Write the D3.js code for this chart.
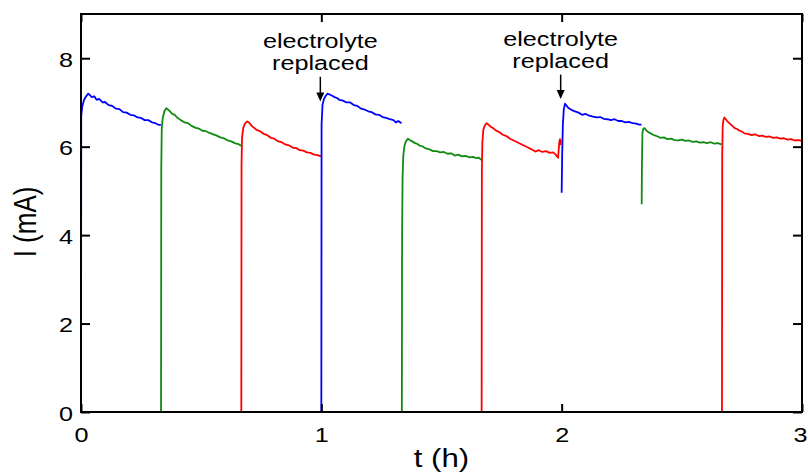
<!DOCTYPE html>
<html>
<head>
<meta charset="utf-8">
<script src="https://cdn.jsdelivr.net/npm/d3@7/dist/d3.min.js"></script>
<style>
  html, body { margin: 0; padding: 0; background: #fff; }
  svg { display: block; }
  text { font-family: "Liberation Sans", Arial, sans-serif; fill: #000; }
</style>
</head>
<body>
<svg id="chart" width="808" height="475"></svg>
<script>
// ---- data (t in hours, I in mA) ----
const blue1 = [[0,0],[0.001,6.7],[0.005,6.9],[0.012,7.05],[0.02,7.13],[0.03,7.2],[0.036,7.17],[0.045,7.12],[0.055,7.14],[0.065,7.06],[0.075,7.08],[0.09,7.0],[0.1,7.01],[0.115,6.94],[0.13,6.92],[0.145,6.86],[0.16,6.85],[0.175,6.78],[0.19,6.77],[0.205,6.72],[0.22,6.71],[0.235,6.66],[0.25,6.65],[0.265,6.6],[0.28,6.6],[0.295,6.55],[0.31,6.53],[0.32,6.5],[0.332,6.49]];
const green1 = [[0.333,0],[0.334,5.5],[0.336,6.4],[0.34,6.65],[0.347,6.8],[0.355,6.87],[0.362,6.84],[0.37,6.8],[0.38,6.74],[0.39,6.72],[0.40,6.66],[0.415,6.6],[0.43,6.55],[0.445,6.53],[0.46,6.47],[0.475,6.43],[0.49,6.41],[0.505,6.36],[0.52,6.35],[0.535,6.31],[0.55,6.28],[0.565,6.25],[0.58,6.21],[0.595,6.19],[0.61,6.14],[0.625,6.12],[0.64,6.08],[0.655,6.06],[0.666,6.02]];
const red1 = [[0.667,0],[0.668,5.6],[0.67,6.2],[0.675,6.42],[0.682,6.52],[0.692,6.57],[0.7,6.54],[0.71,6.47],[0.72,6.43],[0.73,6.38],[0.745,6.35],[0.76,6.29],[0.775,6.26],[0.79,6.2],[0.805,6.18],[0.82,6.12],[0.835,6.1],[0.85,6.05],[0.865,6.03],[0.88,5.98],[0.895,5.97],[0.91,5.92],[0.925,5.91],[0.94,5.87],[0.955,5.86],[0.97,5.82],[0.985,5.81],[0.998,5.78]];
const blue2 = [[1.0,0],[1.001,6.5],[1.005,6.95],[1.011,7.08],[1.018,7.15],[1.026,7.2],[1.034,7.18],[1.045,7.15],[1.055,7.12],[1.065,7.1],[1.075,7.06],[1.09,7.04],[1.105,7.0],[1.12,7.0],[1.135,6.94],[1.15,6.92],[1.165,6.86],[1.18,6.84],[1.195,6.8],[1.21,6.78],[1.225,6.73],[1.24,6.72],[1.255,6.67],[1.27,6.65],[1.285,6.62],[1.3,6.6],[1.31,6.55],[1.32,6.58],[1.33,6.54],[1.334,6.55]];
const green2 = [[1.335,0],[1.336,4.0],[1.338,5.3],[1.341,5.8],[1.346,6.02],[1.352,6.12],[1.36,6.18],[1.368,6.15],[1.378,6.12],[1.39,6.08],[1.4,6.06],[1.41,6.02],[1.42,6.01],[1.435,5.96],[1.45,5.94],[1.465,5.9],[1.48,5.9],[1.495,5.87],[1.51,5.88],[1.525,5.84],[1.54,5.85],[1.555,5.8],[1.57,5.82],[1.585,5.78],[1.6,5.79],[1.615,5.76],[1.63,5.77],[1.645,5.74],[1.655,5.75],[1.666,5.7]];
const red2 = [[1.667,0],[1.668,5.5],[1.67,6.1],[1.674,6.38],[1.68,6.48],[1.687,6.53],[1.695,6.5],[1.705,6.45],[1.715,6.42],[1.725,6.37],[1.74,6.33],[1.755,6.27],[1.77,6.24],[1.785,6.18],[1.8,6.14],[1.815,6.1],[1.83,6.06],[1.845,6.02],[1.86,5.98],[1.875,5.94],[1.89,5.89],[1.905,5.92],[1.92,5.88],[1.935,5.9],[1.95,5.86],[1.965,5.87],[1.975,5.82],[1.985,5.75],[1.988,5.95],[1.99,6.1],[1.993,6.17],[1.995,6.05],[1.997,6.15]];
const blue3 = [[2.0,4.96],[2.002,5.8],[2.005,6.5],[2.009,6.85],[2.014,6.97],[2.02,6.93],[2.027,6.88],[2.035,6.85],[2.045,6.82],[2.055,6.8],[2.07,6.77],[2.085,6.72],[2.1,6.74],[2.115,6.7],[2.13,6.68],[2.145,6.66],[2.16,6.67],[2.175,6.63],[2.19,6.62],[2.205,6.6],[2.22,6.62],[2.235,6.58],[2.25,6.58],[2.265,6.55],[2.28,6.56],[2.295,6.53],[2.31,6.52],[2.322,6.5],[2.332,6.5]];
const green3 = [[2.333,4.7],[2.334,5.6],[2.336,6.3],[2.339,6.4],[2.345,6.42],[2.352,6.37],[2.36,6.33],[2.37,6.3],[2.38,6.27],[2.39,6.25],[2.4,6.23],[2.41,6.2],[2.425,6.21],[2.44,6.17],[2.455,6.18],[2.47,6.15],[2.485,6.14],[2.5,6.16],[2.515,6.13],[2.53,6.14],[2.545,6.11],[2.56,6.12],[2.575,6.09],[2.59,6.1],[2.605,6.08],[2.62,6.1],[2.635,6.07],[2.65,6.08],[2.665,6.05]];
const red3 = [[2.667,0],[2.668,5.8],[2.67,6.45],[2.673,6.6],[2.677,6.66],[2.683,6.62],[2.69,6.57],[2.7,6.52],[2.71,6.47],[2.72,6.42],[2.73,6.4],[2.74,6.36],[2.75,6.34],[2.76,6.3],[2.775,6.29],[2.79,6.26],[2.805,6.28],[2.82,6.24],[2.835,6.25],[2.85,6.22],[2.865,6.23],[2.88,6.2],[2.895,6.21],[2.91,6.18],[2.925,6.19],[2.94,6.16],[2.955,6.17],[2.97,6.14],[2.985,6.15],[3.0,6.13]];

const segments = [blue1, green1, red1, blue2, green2, red2, blue3, green3, red3];
const segmentColors = ["#0000ff", "#118a11", "#ff0000", "#0000ff", "#118a11", "#ff0000", "#0000ff", "#118a11", "#ff0000"];

const xTicks = [0, 1, 2, 3];
const yTicks = [0, 2, 4, 6, 8];
const xTitle = "t (h)";
const yTitle = "I (mA)";

// annotations: time of replacement, arrow tip/top (mA), text lines
const annotT = [1.0, 2.0];
const annotTip = [7.02, 7.08];
const annotTop = [7.58, 7.63];
const annotLines = ["electrolyte", "replaced"];

// ---- layout ----
const svg = d3.select("#chart");
const L = 81, R = 802, T = 14, B = 412;
const x = d3.scaleLinear().domain([0, 3]).range([L, R]);
const y = d3.scaleLinear().domain([0, 9]).range([B, T]);
const SX = 1.2; // horizontal stretch of the lettering in the reference

// traces
const line = d3.line().x(d => x(d[0])).y(d => y(d[1]));
svg.append("g").selectAll("path").data(segments).join("path")
  .attr("d", line)
  .attr("fill", "none")
  .attr("stroke", (d, i) => segmentColors[i])
  .attr("stroke-width", 1.8)
  .attr("stroke-linejoin", "round");

// axes (inward ticks)
const fmt = d3.format("d");
const gl = svg.append("g").attr("transform", `translate(${L},0)`)
  .call(d3.axisLeft(y).tickValues(yTicks).tickFormat(fmt).tickSizeInner(-9).tickSizeOuter(0).tickPadding(9));
const gr = svg.append("g").attr("transform", `translate(${R},0)`)
  .call(d3.axisRight(y).tickValues(yTicks).tickSizeInner(-9).tickSizeOuter(0).tickFormat(""));
const gb = svg.append("g").attr("transform", `translate(0,${B})`)
  .call(d3.axisBottom(x).tickValues(xTicks).tickFormat(fmt).tickSizeInner(-8).tickSizeOuter(0).tickPadding(8));
const gt = svg.append("g").attr("transform", `translate(0,${T})`)
  .call(d3.axisTop(x).tickValues(xTicks).tickSizeInner(-8).tickSizeOuter(0).tickFormat(""));

[gl, gr, gb, gt].forEach(g => {
  g.select(".domain").remove();
  g.selectAll(".tick line").attr("stroke", "#000").attr("stroke-width", 2);
});

gl.selectAll(".tick text")
  .attr("x", null).attr("dy", null)
  .attr("transform", `translate(-8,8) scale(${SX},1)`)
  .attr("font-size", 21).attr("font-family", "Liberation Sans, Arial, sans-serif").attr("fill", "#000");
gb.selectAll(".tick text")
  .attr("y", null).attr("dy", null)
  .attr("transform", d => d === 3 ? `translate(5,30) scale(${SX},1)` : `translate(0,30) scale(${SX},1)`)
  .attr("text-anchor", d => d === 3 ? "end" : "middle")
  .attr("font-size", 21).attr("font-family", "Liberation Sans, Arial, sans-serif").attr("fill", "#000");

// frame
svg.append("rect")
  .attr("x", L).attr("y", T).attr("width", R - L).attr("height", B - T)
  .attr("fill", "none").attr("stroke", "#000").attr("stroke-width", 2);

// axis titles
svg.append("text")
  .attr("transform", `translate(${(L + R) / 2},467) scale(${SX},1)`)
  .attr("text-anchor", "middle").attr("font-size", 26).text(xTitle);
svg.append("text")
  .attr("transform", `translate(36,${(T + B) / 2 + 9}) scale(${SX},1) rotate(-90)`)
  .attr("text-anchor", "middle").attr("font-size", 26).text(yTitle);

// annotations
const ann = svg.append("g");
annotT.forEach((t, i) => {
  const ax = x(t) - 1;
  const g = ann.append("g");
  annotLines.forEach((s, j) => {
    g.append("text")
      .attr("transform", `translate(${ax},${y(annotTop[i]) - 29 + j * 22}) scale(${SX},1)`)
      .attr("text-anchor", "middle").attr("font-size", 21).text(s);
  });
  const yTip = y(annotTip[i]), yTop = y(annotTop[i]);
  g.append("line")
    .attr("x1", ax).attr("x2", ax).attr("y1", yTop).attr("y2", yTip - 6)
    .attr("stroke", "#000").attr("stroke-width", 1.5);
  g.append("path")
    .attr("d", `M${ax - 4},${yTip - 9}L${ax + 4},${yTip - 9}L${ax},${yTip}Z`)
    .attr("fill", "#000");
});
</script>
</body>
</html>
